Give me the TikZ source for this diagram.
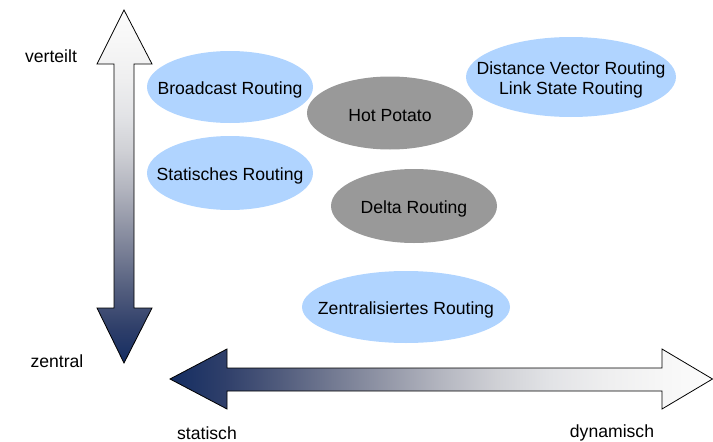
\documentclass[tikz,border=0pt]{standalone}
\usepackage{fontspec}
\setmainfont{Liberation Sans}
\definecolor{lblue}{HTML}{B0D4FF}
\definecolor{dgray}{HTML}{999999}
\definecolor{navy}{HTML}{142D62}
\definecolor{gA}{HTML}{2F3F6A}
\definecolor{gB}{HTML}{505B7C}
\definecolor{gC}{HTML}{737A92}
\definecolor{gD}{HTML}{9498A8}
\definecolor{gE}{HTML}{B4B6C0}
\definecolor{gF}{HTML}{CFD0D5}
\definecolor{gG}{HTML}{E2E3E6}
\definecolor{gH}{HTML}{EEEEEF}
\definecolor{gI}{HTML}{F6F6F6}
\definecolor{gJ}{HTML}{FCFCFC}
\pgfdeclarehorizontalshading{navytowhiteh}{100bp}{
  color(0bp)=(navy); color(25bp)=(navy);
  color(30bp)=(gA); color(35bp)=(gB); color(40bp)=(gC); color(45bp)=(gD);
  color(50bp)=(gE); color(55bp)=(gF); color(60bp)=(gG); color(65bp)=(gH);
  color(70bp)=(gI); color(75bp)=(gJ); color(100bp)=(gJ)}
\pgfdeclareverticalshading{navytowhitev}{100bp}{
  color(0bp)=(navy); color(25bp)=(navy);
  color(30bp)=(gA); color(35bp)=(gB); color(40bp)=(gC); color(45bp)=(gD);
  color(50bp)=(gE); color(55bp)=(gF); color(60bp)=(gG); color(65bp)=(gH);
  color(70bp)=(gI); color(75bp)=(gJ); color(100bp)=(gJ)}
\begin{document}
\begin{tikzpicture}[x=1pt,y=-1pt,
  txt/.style={font=\fontsize{17.6}{20}\selectfont,align=center,text=black,inner sep=0pt},
  ovaltxt/.style={txt,yshift=-2.5pt},
  arrowshape/.style={draw=black,line width=0.8pt,line join=miter}]
\useasboundingbox (0,0) rectangle (713,442);
% vertical double arrow
\shade[arrowshape,shading=navytowhitev]
  (124,10) -- (152,64) -- (134,64) -- (134,308) -- (152,308) -- (124,363)
  -- (97,308) -- (114,308) -- (114,64) -- (97,64) -- cycle;
% horizontal double arrow
\shade[arrowshape,shading=navytowhiteh]
  (170,379) -- (227,349) -- (227,368) -- (662,368) -- (662,349) -- (712.5,379)
  -- (662,409) -- (662,391) -- (227,391) -- (227,409) -- cycle;
% labels
\node[txt,yshift=-1pt] (verteilt) at (51,55) {verteilt};
\node[txt,yshift=-1pt] (zentral) at (57,360) {zentral};
\node[txt] (statisch) at (207,433) {statisch};
\node[txt] (dynamisch) at (612,433) {dynamisch};
% ovals
\fill[lblue] (230,87) ellipse [x radius=83pt, y radius=36pt];
\node[ovaltxt] (broadcast) at (230,87) {Broadcast Routing};
\fill[lblue] (230,173) ellipse [x radius=83pt, y radius=37pt];
\node[ovaltxt] (statisches) at (230,173) {Statisches Routing};
\fill[dgray] (390,113) ellipse [x radius=83pt, y radius=36.5pt];
\node[ovaltxt] (hotpotato) at (390,113) {Hot Potato};
\fill[lblue] (571,77) ellipse [x radius=105pt, y radius=40pt];
\node[ovaltxt] (distance) at (571,77) {Distance Vector Routing\\Link State Routing};
\fill[dgray] (414,206) ellipse [x radius=83pt, y radius=37pt];
\node[ovaltxt] (delta) at (414,206) {Delta Routing};
\fill[lblue] (406,307) ellipse [x radius=104pt, y radius=36pt];
\node[ovaltxt] (zentralisiert) at (406,307) {Zentralisiertes Routing};
\end{tikzpicture}
\end{document}
